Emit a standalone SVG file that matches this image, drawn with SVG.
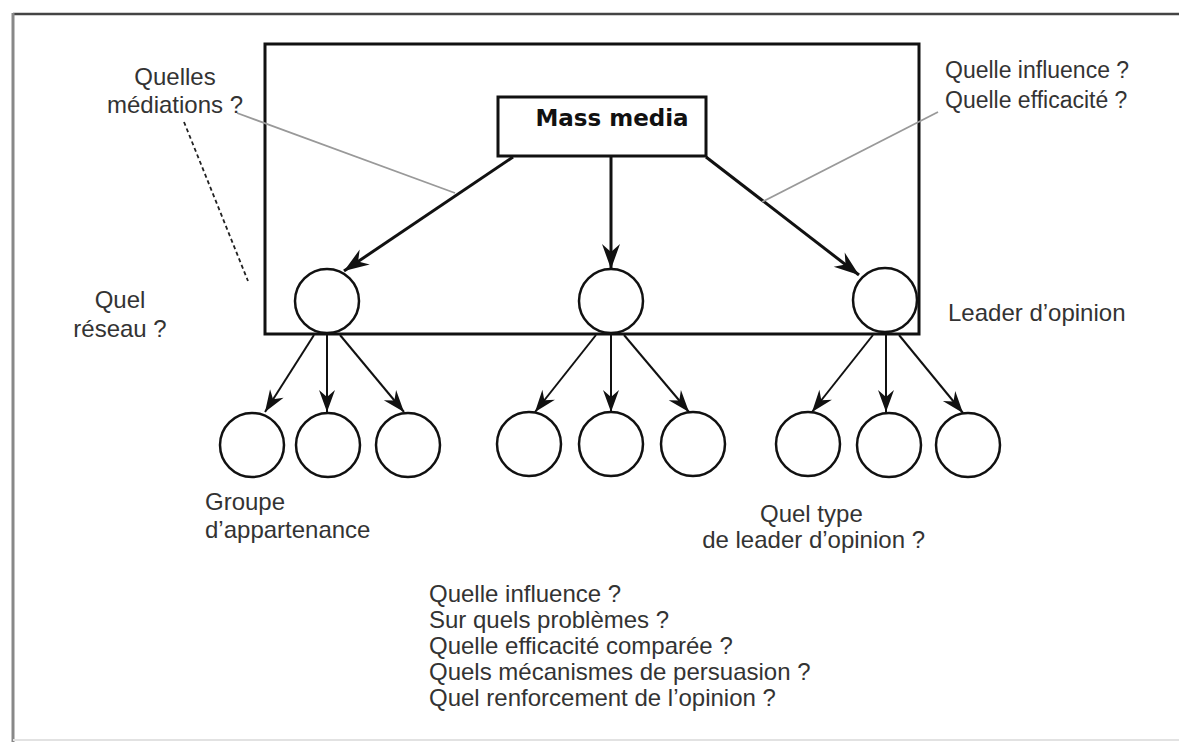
<svg xmlns="http://www.w3.org/2000/svg" width="1179" height="742" viewBox="0 0 1179 742">
<style>
  .lbl { font-family: "Liberation Sans", Arial, sans-serif; font-size: 24px; fill: #333; }
  .sm { font-size: 23px; }
  .title { font-family: "DejaVu Sans", "Liberation Sans", sans-serif; font-weight: bold; font-size: 23px; fill: #111; }
  .node { fill: #fff; stroke: #111; stroke-width: 2.5; }
  .main { stroke: #111; stroke-width: 3; fill: none; }
  .sub { stroke: #111; stroke-width: 2; fill: none; }
  .note { stroke: #999; stroke-width: 1.8; fill: none; }
  .dash { stroke: #222; stroke-width: 1.8; stroke-dasharray: 4 3; fill: none; }
  marker { overflow: visible; }
</style>
<defs>
  <marker id="ah" markerUnits="userSpaceOnUse" markerWidth="1" markerHeight="1" refX="0" refY="0" orient="auto">
    <path d="M0,0 L-25,-9 L-17,0 L-25,9 Z" fill="#111"/>
  </marker>
  <marker id="ahs" markerUnits="userSpaceOnUse" markerWidth="1" markerHeight="1" refX="0" refY="0" orient="auto">
    <path d="M0,0 L-22,-8 L-15,0 L-22,8 Z" fill="#111"/>
  </marker>
</defs>
<rect x="0" y="0" width="1179" height="742" fill="#fff"/>
<g id="frame">
  <line x1="13" y1="14" x2="1179" y2="14" stroke="#444" stroke-width="2.5"/>
  <line x1="13" y1="13" x2="13" y2="742" stroke="#888" stroke-width="3"/>
  <line x1="13" y1="740" x2="1179" y2="740" stroke="#e2e2e2" stroke-width="2"/>
</g>
<g id="system-box">
  <rect x="265" y="44" width="654" height="290" fill="none" stroke="#111" stroke-width="3"/>
</g>
<g id="connectors">
  <line class="main" x1="513" y1="157" x2="344" y2="271" marker-end="url(#ah)"/>
  <line class="main" x1="611" y1="157" x2="611" y2="269" marker-end="url(#ah)"/>
  <line class="main" x1="706" y1="157" x2="859" y2="275" marker-end="url(#ah)"/>
  <line class="sub" x1="314" y1="335" x2="265" y2="412" marker-end="url(#ahs)"/>
  <line class="sub" x1="327" y1="335" x2="327" y2="412" marker-end="url(#ahs)"/>
  <line class="sub" x1="340" y1="335" x2="404" y2="412" marker-end="url(#ahs)"/>
  <line class="sub" x1="596" y1="335" x2="535" y2="412" marker-end="url(#ahs)"/>
  <line class="sub" x1="611" y1="335" x2="611" y2="412" marker-end="url(#ahs)"/>
  <line class="sub" x1="624" y1="335" x2="689" y2="412" marker-end="url(#ahs)"/>
  <line class="sub" x1="873" y1="335" x2="812" y2="412" marker-end="url(#ahs)"/>
  <line class="sub" x1="886" y1="335" x2="886" y2="412" marker-end="url(#ahs)"/>
  <line class="sub" x1="899" y1="335" x2="963" y2="413" marker-end="url(#ahs)"/>
  <line class="note" x1="237" y1="113" x2="455" y2="193"/>
  <line class="note" x1="938" y1="112" x2="762" y2="202"/>
  <line class="dash" x1="184" y1="122" x2="248" y2="281"/>
</g>
<g id="mass-media">
  <rect x="498" y="97" width="208" height="59" fill="#fff" stroke="#111" stroke-width="3"/>
  <text class="title" x="612" y="126" text-anchor="middle">Mass media</text>
</g>
<g id="leader-1"><circle class="node" cx="327" cy="301" r="32"/></g>
<g id="leader-2"><circle class="node" cx="611" cy="301" r="32"/></g>
<g id="leader-3"><circle class="node" cx="885" cy="300" r="32"/></g>
<g id="member-1a"><circle class="node" cx="252" cy="445" r="32"/></g>
<g id="member-1b"><circle class="node" cx="328" cy="445" r="32"/></g>
<g id="member-1c"><circle class="node" cx="408" cy="445" r="32"/></g>
<g id="member-2a"><circle class="node" cx="529" cy="444" r="32"/></g>
<g id="member-2b"><circle class="node" cx="611" cy="444" r="32"/></g>
<g id="member-2c"><circle class="node" cx="693" cy="444" r="32"/></g>
<g id="member-3a"><circle class="node" cx="808" cy="444" r="32"/></g>
<g id="member-3b"><circle class="node" cx="889" cy="445" r="32"/></g>
<g id="member-3c"><circle class="node" cx="968" cy="445" r="32"/></g>
<g id="labels">
  <text class="lbl" x="175" y="85" text-anchor="middle">Quelles</text>
  <text class="lbl" x="175" y="113" text-anchor="middle">médiations ?</text>
  <text class="lbl sm" x="945" y="78">Quelle influence ?</text>
  <text class="lbl sm" x="945" y="108">Quelle efficacité ?</text>
  <text class="lbl" x="120" y="308" text-anchor="middle">Quel</text>
  <text class="lbl" x="120" y="337" text-anchor="middle">réseau ?</text>
  <text class="lbl" x="948" y="321">Leader d’opinion</text>
  <text class="lbl" x="205" y="510">Groupe</text>
  <text class="lbl" x="205" y="538">d’appartenance</text>
  <text class="lbl" x="760" y="522">Quel type</text>
  <text class="lbl" x="925" y="548" text-anchor="end">de leader d’opinion ?</text>
  <text class="lbl" x="429" y="602">Quelle influence ?</text>
  <text class="lbl" x="429" y="628">Sur quels problèmes ?</text>
  <text class="lbl" x="429" y="654">Quelle efficacité comparée ?</text>
  <text class="lbl" x="429" y="680">Quels mécanismes de persuasion ?</text>
  <text class="lbl" x="429" y="706">Quel renforcement de l’opinion ?</text>
</g>
</svg>
